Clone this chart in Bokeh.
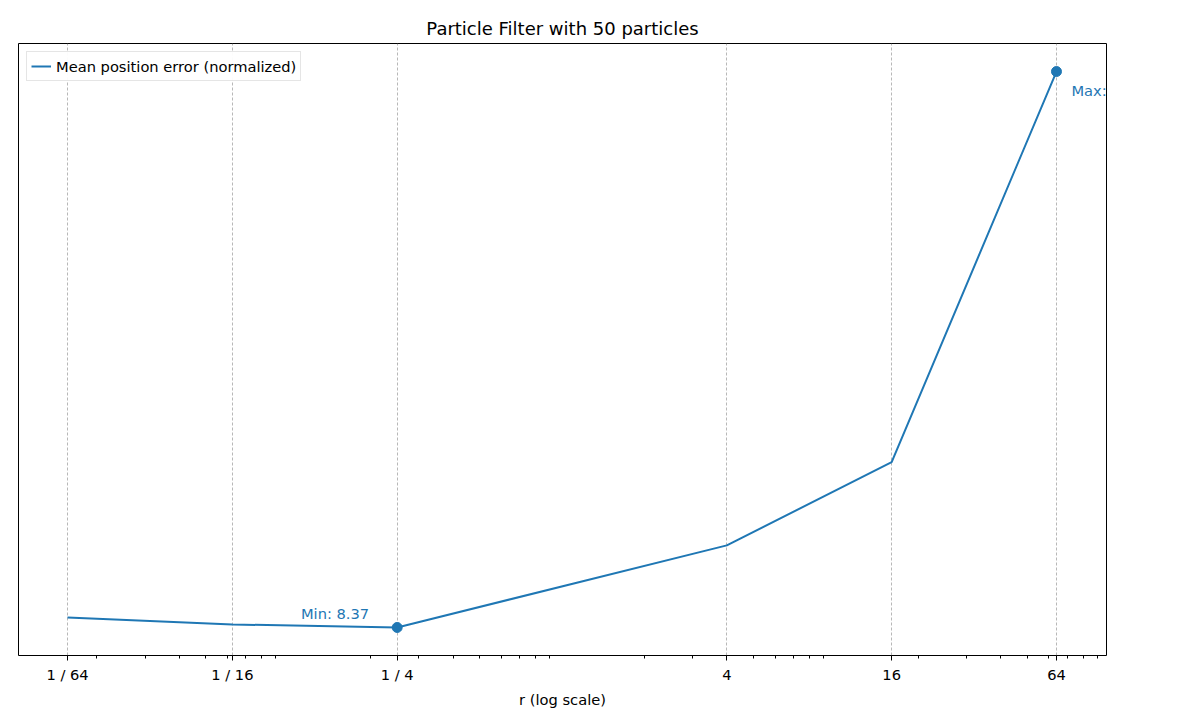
from bokeh.plotting import figure
from bokeh.embed import file_html
from bokeh.resources import INLINE
from bokeh.models import FixedTicker, Label, Range1d

r_values = [1/64, 1/16, 1/4, 4, 16, 64]
errors = [10.36, 8.97, 8.37, 24.72, 41.28, 119.06]
tick_values = [1/64, 1/16, 1/4, 4, 16, 64]
tick_labels = ["1 / 64", "1 / 16", "1 / 4", "4", "16", "64"]

minor = []
for dec in [0.01, 0.1, 1, 10]:
    for k in range(2, 10):
        minor.append(k * dec)

color = "#1f77b4"
p = figure(width=1184, height=710, x_axis_type="log", output_backend="svg",
           toolbar_location=None, tools="", title="Particle Filter with 50 particles",
           x_range=Range1d(2 ** -6.595, 2 ** 6.607), y_range=Range1d(2.79, 124.64),
           min_border_left=18, min_border_right=78, min_border_top=43, min_border_bottom=10)
p.title.align = "center"
p.title.text_font_size = "13.5pt"
p.title.text_font_style = "normal"
p.title.text_font = "DejaVu Sans"
p.title.text_color = "black"
p.outline_line_color = "black"
p.outline_line_alpha = 1

p.xaxis.ticker = FixedTicker(ticks=tick_values, minor_ticks=minor)
p.xaxis.major_label_overrides = {t: l for t, l in zip(tick_values, tick_labels)}
p.xaxis.axis_label = "r (log scale)"
p.xaxis.axis_label_text_font_style = "normal"
p.xaxis.axis_label_text_font_size = "11pt"
p.xaxis.major_label_text_font_size = "11pt"
p.xaxis.axis_label_text_font = "DejaVu Sans"
p.xaxis.major_label_text_font = "DejaVu Sans"
p.xaxis.axis_label_text_color = "black"
p.xaxis.major_label_text_color = "black"
p.xaxis.axis_line_color = None
p.xaxis.major_tick_line_color = "black"
p.xaxis.minor_tick_line_color = "black"
p.xaxis.major_tick_in = 0
p.xaxis.major_tick_out = 5
p.xaxis.minor_tick_in = 0
p.xaxis.minor_tick_out = 3
p.yaxis.visible = False
p.ygrid.grid_line_color = None
p.xgrid.grid_line_color = "#999999"
p.xgrid.grid_line_dash = "3 2"
p.xgrid.grid_line_width = 0.7

p.line(r_values, errors, line_color=color, line_width=2,
       legend_label="Mean position error (normalized)")

i_min = errors.index(min(errors))
i_max = errors.index(max(errors))
p.scatter([r_values[i_min], r_values[i_max]], [errors[i_min], errors[i_max]],
          size=10, color=color)
p.add_layout(Label(x=r_values[i_min], y=errors[i_min], text=f"Min: {errors[i_min]:.2f}",
                   x_offset=-28, y_offset=5, text_align="right", text_color=color,
                   text_font_size="11pt", text_font="DejaVu Sans", level="overlay"))
p.add_layout(Label(x=r_values[i_max], y=errors[i_max], text=f"Max: {errors[i_max]:.2f}",
                   x_offset=15, y_offset=-27, text_align="left", text_color=color,
                   text_font_size="11pt", text_font="DejaVu Sans", level="overlay"))

p.legend.location = "top_left"
p.legend.label_text_font_size = "11pt"
p.legend.label_text_font = "DejaVu Sans"
p.legend.label_text_color = "black"
p.legend.border_line_color = "#cccccc"
p.legend.margin = 8
p.legend.padding = 4

open("out.html", "w").write(file_html(p, INLINE))
